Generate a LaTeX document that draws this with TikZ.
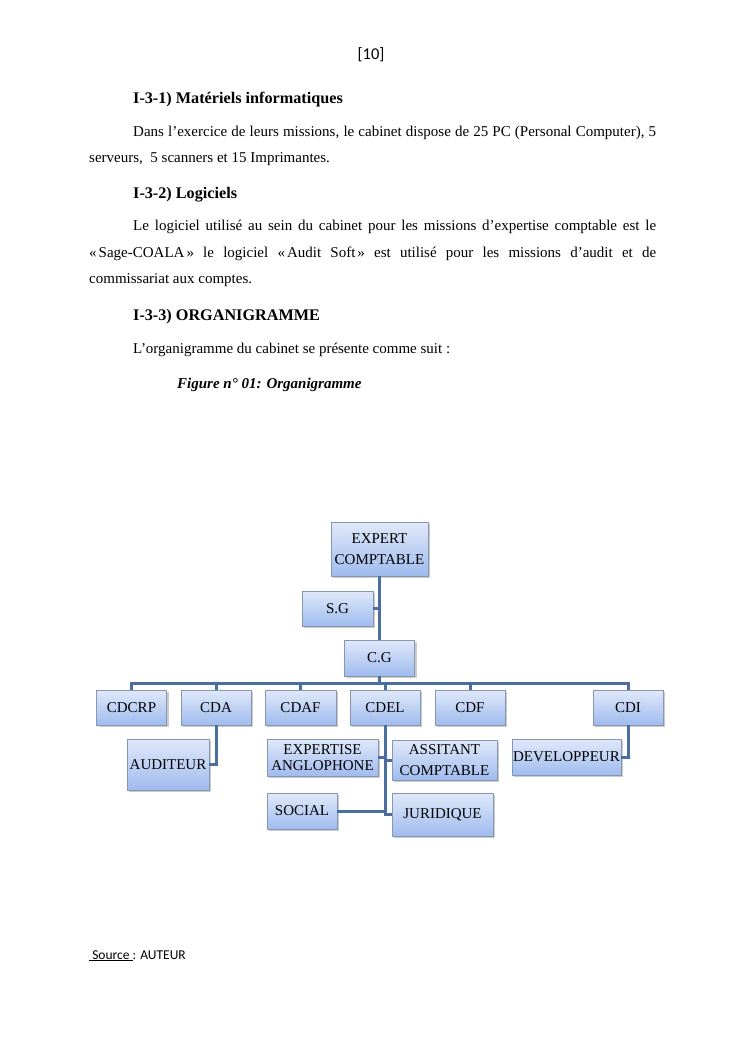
\documentclass[tikz,border=0pt]{standalone}
\usepackage{fontspec}
\setmainfont{Liberation Serif}
\newfontfamily\carl{Carlito}
\usetikzlibrary{shadows}
\definecolor{boxtop}{HTML}{E0E9FA}
\definecolor{boxbot}{HTML}{9FBBEE}
\definecolor{boxedge}{HTML}{8797B2}
\definecolor{linkc}{HTML}{4A6E9E}
\tikzset{
  orgbox/.style={draw=boxedge, line width=0.8pt, top color=boxtop, bottom color=boxbot,
    inner sep=0pt, align=center, text=black,
    font=\fontsize{15}{21}\selectfont,
    drop shadow={shadow xshift=2pt, shadow yshift=-2pt, fill=black!40, opacity=0.5}},
  link/.style={draw=linkc, line width=3pt},
  body/.style={anchor=base west, inner sep=0pt, font=\fontsize{15}{18}\selectfont},
  head/.style={body, font=\fontsize{16.2}{19}\selectfont\bfseries},
}
\begin{document}
\begin{tikzpicture}[x=1pt,y=-1pt]
\useasboundingbox (0,0) rectangle (745,1053);
\fill[white] (0,0) rectangle (745,1053);
% ---- text ----
\node[inner sep=0pt, font=\carl\fontsize{16.5}{18}\selectfont] (pg) at (371,55) {[10]};
\node[head] (h1) at (133,103) {I-3-1) Matériels informatiques};
\node[body] (p1a) at (133,136) {\makebox[523pt][s]{Dans l’exercice de leurs missions, le cabinet dispose de 25 PC (Personal Computer), 5}};
\node[body] (p1b) at (89,162) {serveurs,\ \ 5 scanners et 15 Imprimantes.};
\node[head] (h2) at (133,198) {I-3-2) Logiciels};
\node[body] (p2a) at (133,230) {\makebox[523pt][s]{Le logiciel utilisé au sein du cabinet pour les missions d’expertise comptable est le}};
\node[body] (p2b) at (89,257) {\makebox[567pt][s]{«\kern2pt Sage-COALA\kern2pt» le logiciel «\kern2pt Audit Soft\kern2pt» est utilisé pour les missions d’audit et de}};
\node[body] (p2c) at (89,283) {commissariat aux comptes.};
\node[head] (h3) at (133,320) {I-3-3) ORGANIGRAMME};
\node[body] (p3) at (133,353) {L’organigramme du cabinet se présente comme suit :};
\node[body, font=\fontsize{15}{18}\selectfont\bfseries\itshape] (fig) at (177,388) {Figure n° 01: Organigramme};
\node[anchor=base west, inner sep=0pt, font=\carl\fontsize{13.5}{16}\selectfont] (src) at (89,959) {\underline{\ Source\ }: AUTEUR};
% ---- boxes ----
\node[orgbox, minimum width=97pt, minimum height=54pt] (ec) at (379.5,549) {EXPERT\\COMPTABLE};
\node[orgbox, minimum width=71pt, minimum height=35pt] (sg) at (337.5,608.5) {S.G};
\node[orgbox, minimum width=70pt, minimum height=36pt] (cg) at (379.5,658) {C.G};
\node[orgbox, minimum width=70pt, minimum height=35pt] (cdcrp) at (131.5,707.5) {CDCRP};
\node[orgbox, minimum width=70pt, minimum height=35pt] (cda) at (216,707.5) {CDA};
\node[orgbox, minimum width=71pt, minimum height=35pt] (cdaf) at (300.5,707.5) {CDAF};
\node[orgbox, minimum width=70pt, minimum height=35pt] (cdel) at (385,707.5) {CDEL};
\node[orgbox, minimum width=70pt, minimum height=35pt] (cdf) at (470,707.5) {CDF};
\node[orgbox, minimum width=70pt, minimum height=35pt] (cdi) at (628,707.5) {CDI};
\node[orgbox, minimum width=82pt, minimum height=51pt] (aud) at (168,764.5) {AUDITEUR};
\node[orgbox, minimum width=111pt, minimum height=37pt, font=\fontsize{15}{16}\selectfont] (exp) at (322.5,757.5) {EXPERTISE\\ANGLOPHONE};
\node[orgbox, minimum width=105pt, minimum height=40pt] (ass) at (444.5,760) {ASSITANT\\COMPTABLE};
\node[orgbox, minimum width=109pt, minimum height=36pt] (dev) at (566.5,757) {DEVELOPPEUR};
\node[orgbox, minimum width=70pt, minimum height=36pt] (soc) at (302,811) {SOCIAL};
\node[orgbox, minimum width=101pt, minimum height=43pt] (jur) at (442.5,814.5) {JURIDIQUE};
% ---- connectors ----
\coordinate (bus) at (0,683);
\draw[link] (ec.south) -- (cg.north);
\draw[link] (sg.east) -- (sg.east -| ec.south);
\draw[link] (cg.south) -- (cg.south |- bus);
\draw[link, line join=miter] (cdcrp.north) -- (cdcrp.north |- bus) -- (cdi.north |- bus) -- (cdi.north);
\foreach \n in {cda,cdaf,cdel,cdf}{\draw[link] (\n.north) -- (\n.north |- bus);}
\draw[link, line join=miter] (cda.south) |- (aud.east);
\draw[link, line join=miter] (cdi.south) |- (dev.east);
\draw[link, line join=miter] (cdel.south) |- (jur.west);
\draw[link] (exp.east) -- (exp.east -| cdel.south);
\draw[link] (ass.west) -- (ass.west -| cdel.south);
\draw[link] (soc.east) -- (soc.east -| cdel.south);
\end{tikzpicture}
\end{document}
